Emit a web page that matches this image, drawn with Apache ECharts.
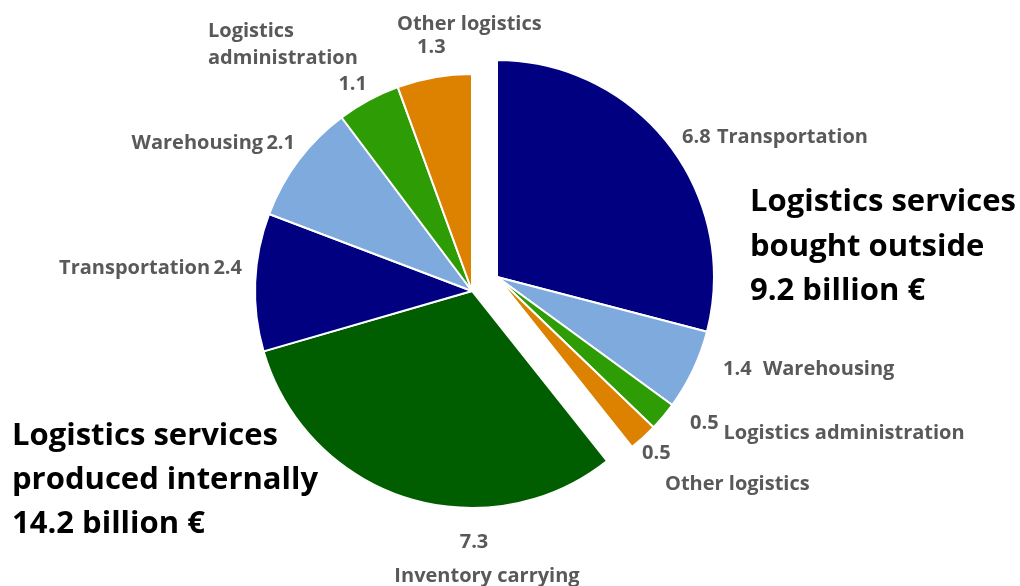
<!DOCTYPE html>
<html>
<head>
<meta charset="utf-8">
<script src="https://cdn.jsdelivr.net/npm/echarts@6/dist/echarts.min.js"></script>
<style>
  html, body { margin: 0; padding: 0; background: #fff; }
  #main { width: 1020px; height: 586px; }
</style>
</head>
<body>
<div id="main"></div>
<script>
  // data (billion €)
  var boughtNames = ['Transportation', 'Warehousing', 'Logistics administration', 'Other logistics'];
  var boughtValues = [6.8, 1.4, 0.5, 0.5];
  var internalNames = ['Inventory carrying', 'Transportation', 'Warehousing', 'Logistics administration', 'Other logistics'];
  var internalValues = [7.3, 2.4, 2.1, 1.1, 1.3];
  var boughtTitle = ['Logistics services', 'bought outside', '9.2 billion €'];
  var internalTitle = ['Logistics services', 'produced internally', '14.2 billion €'];

  var colors = {
    'Transportation': '#000080',
    'Warehousing': '#7eaadd',
    'Logistics administration': '#2d9c05',
    'Other logistics': '#dc8200',
    'Inventory carrying': '#005e00'
  };

  // label anchors [x, y, align]
  var boughtLabelPos = [[682, 137, 'left'], [723, 369, 'left'], [690, 433, 'left'], [642, 469, 'left']];
  var internalLabelPos = [[487, 559, 'center'], [242, 268, 'right'], [295, 143, 'right'], [208, 57, 'left'], [397, 36, 'left']];

  function sum(arr) {
    var s = 0;
    for (var i = 0; i < arr.length; i++) s += arr[i];
    return s;
  }

  var gray = '#595959';
  var font = 'Open Sans';
  function tok(extra) {
    var s = { color: gray, fontSize: 20, fontWeight: 'bold', fontFamily: font, lineHeight: 28 };
    for (var k in extra) s[k] = extra[k];
    return s;
  }
  var rich = {
    n: tok({}),
    v: tok({ padding: [0, 3, 0, 0] }),
    vw: tok({ padding: [0, 8, 0, 0] }),
    vu: tok({ padding: [0, 5, 20, 0] }),
    ni: tok({ lineHeight: 31, padding: [0, 0, 0, 23] }),
    v0: tok({ lineHeight: 31 }),
    vc: tok({ lineHeight: 34, padding: [0, 26, 0, 0] }),
    nc: tok({ lineHeight: 34 }),
    vi: tok({ lineHeight: 23, padding: [0, 0, 0, 20] }),
    no: tok({ lineHeight: 23 }),
    nl: tok({ lineHeight: 27, align: 'left' }),
    vr: tok({ lineHeight: 25, align: 'right' })
  };

  function boughtLabel(p) {
    var i = p.dataIndex;
    if (i === 0) return '{v|' + p.value + '} {n|' + p.name + '}';
    if (i === 1) return '{vw|' + p.value + '} {n|' + p.name + '}';
    if (i === 2) return '{vu|' + p.value + '}{n|' + p.name + '}';
    return '{v0|' + p.value + '}\n{ni|' + p.name + '}';
  }
  function internalLabel(p) {
    var i = p.dataIndex - 1;
    if (i === 0) return '{vc|' + p.value + '}\n{nc|' + p.name + '}';
    if (i === 1 || i === 2) return '{n|' + p.name + '} {n|' + p.value + '}';
    if (i === 3) return '{nl|Logistics}\n{nl|administration}\n{vr|' + p.value + '}';
    return '{no|' + p.name + '}\n{vi|' + p.value + '}';
  }

  var hidden = {
    itemStyle: { color: 'rgba(0,0,0,0)', borderWidth: 0 },
    label: { show: false },
    emphasis: { disabled: true },
    silent: true
  };

  var boughtData = [];
  for (var i = 0; i < boughtNames.length; i++) {
    boughtData.push({ name: boughtNames[i], value: boughtValues[i], itemStyle: { color: colors[boughtNames[i]] } });
  }
  boughtData.push(Object.assign({ name: 'rest', value: sum(internalValues) }, hidden));

  var internalData = [Object.assign({ name: 'rest', value: sum(boughtValues) }, hidden)];
  for (var j = 0; j < internalNames.length; j++) {
    var item = { name: internalNames[j], value: internalValues[j], itemStyle: { color: colors[internalNames[j]] } };
    if (j === 3) item.label = { width: 159 };
    internalData.push(item);
  }

  var myChart = echarts.init(document.getElementById('main'));
  var option = {
    backgroundColor: '#fff',
    animation: false,
    series: [
      {
        type: 'pie',
        center: [472, 291],
        radius: 217,
        startAngle: 90,
        clockwise: true,
        avoidLabelOverlap: false,
        itemStyle: { borderColor: '#fff', borderWidth: 2 },
        label: { show: true, position: 'outside', formatter: internalLabel, rich: rich },
        labelLine: { show: false },
        labelLayout: function (p) {
          var pos = internalLabelPos[p.dataIndex - 1];
          if (!pos) return {};
          return { x: pos[0], y: pos[1], align: pos[2], verticalAlign: 'middle' };
        },
        data: internalData
      },
      {
        type: 'pie',
        center: [497, 277],
        radius: 217,
        startAngle: 90,
        clockwise: true,
        avoidLabelOverlap: false,
        itemStyle: { borderColor: '#fff', borderWidth: 2 },
        label: { show: true, position: 'outside', formatter: boughtLabel, rich: rich },
        labelLine: { show: false },
        labelLayout: function (p) {
          var pos = boughtLabelPos[p.dataIndex];
          if (!pos) return {};
          return { x: pos[0], y: pos[1], align: pos[2], verticalAlign: 'middle' };
        },
        data: boughtData
      }
    ],
    graphic: [
      {
        type: 'text', left: 750, top: 180,
        style: { text: boughtTitle.join('\n'), fill: '#000', font: 'bold 31px "Open Sans"', lineHeight: 44.5 }
      },
      {
        type: 'text', left: 12, top: 414,
        style: { text: internalTitle.join('\n'), fill: '#000', font: 'bold 31px "Open Sans"', lineHeight: 44 }
      }
    ]
  };
  myChart.setOption(option);
</script>
</body>
</html>
